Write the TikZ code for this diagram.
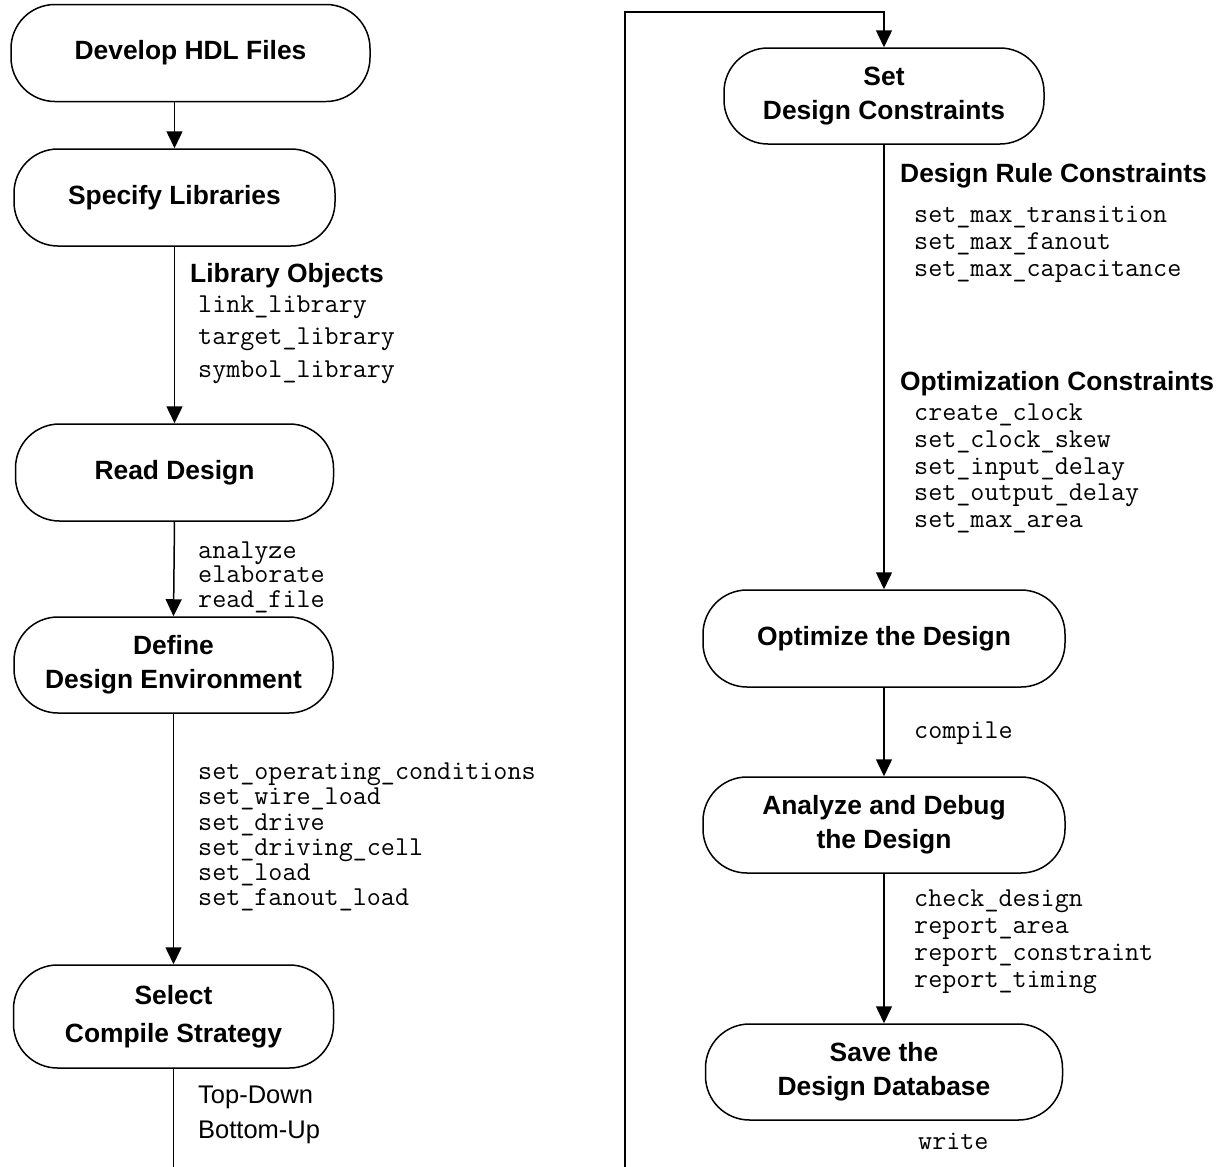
\documentclass[tikz,border=0pt]{standalone}
\usepackage{fontspec}
\setmainfont{Liberation Sans}
\setsansfont{Liberation Sans}
\usetikzlibrary{arrows.meta}
\begin{document}
\begin{tikzpicture}[x=1pt,y=1pt,
  stage/.style={draw, line width=1.5pt, rounded corners=44pt, align=center, inner sep=0pt,
    font=\bfseries\fontsize{26.4}{34}\selectfont, minimum height=97pt},
  flow/.style={line width=1.5pt, -{Triangle[length=17pt,width=16pt]}},
  plain/.style={line width=1.5pt},
  head/.style={anchor=west, inner sep=0pt, font=\bfseries\fontsize{26.4}{30}\selectfont},
  cmd/.style={anchor=west, inner sep=0pt, align=left, font=\ttfamily\fontsize{27.3}{#1}\selectfont},
  cmd/.default=24.6,
  txt/.style={anchor=west, inner sep=0pt, align=left, font=\fontsize{25.5}{35}\selectfont}
]
\useasboundingbox (0,0) rectangle (1224,-1167);

% left column
\node[stage, minimum width=359pt] (dev) at (190.5,-53) {Develop HDL Files};
\node[stage, minimum width=321pt] (spec) at (174.5,-197.5) {Specify Libraries};
\node[stage, minimum width=318pt] (read) at (174.5,-472.5) {Read Design};
\node[stage, minimum width=319pt, minimum height=96pt] (env) at (173.5,-665) {Define\\Design Environment};
\node[stage, minimum width=320pt, minimum height=103pt, font=\bfseries\fontsize{26.4}{38}\selectfont] (sel) at (173.5,-1016.5) {Select\\Compile Strategy};
\coordinate (lend) at (173.5,-1167);

\draw[flow] (spec.north |- dev.south) -- (spec.north);
\draw[flow] (spec.south) -- (read.north);
\draw[flow] (read.south) -- (env.north);
\draw[flow] (env.south) -- (sel.north);
\draw[plain] (sel.south) -- (lend);

\node[head] (libh) at (190,-276) {Library Objects};
\node[cmd=32.5] (libc) at (198,-339.5) {link\_library\\target\_library\\symbol\_library};
\node[cmd] (readc) at (198,-577) {analyze\\elaborate\\read\_file};
\node[cmd=25.2] (envc) at (198,-837) {set\_operating\_conditions\\set\_wire\_load\\set\_drive\\set\_driving\_cell\\set\_load\\set\_fanout\_load};
\node[txt] (stratc) at (198,-1114.5) {Top-Down\\Bottom-Up};

% right column
\coordinate (rstart) at (625,-1167);
\coordinate (rtop) at (625,-12);
\node[stage, minimum width=320pt, minimum height=96pt] (set) at (884,-96) {Set\\Design Constraints};
\node[stage, minimum width=362pt] (opt) at (884,-638.5) {Optimize the Design};
\node[stage, minimum width=362pt, minimum height=96pt] (ana) at (884,-825) {Analyze and Debug\\the Design};
\node[stage, minimum width=357pt, minimum height=96pt] (save) at (884,-1072) {Save the\\Design Database};

\draw[flow] (rstart) -- (rtop) -| (set.north);
\draw[flow] (set.south) -- (opt.north);
\draw[flow] (opt.south) -- (ana.north);
\draw[flow] (ana.south) -- (save.north);

\node[head] (drch) at (900,-176) {Design Rule Constraints};
\node[cmd=27] (drcc) at (914,-244) {set\_max\_transition\\set\_max\_fanout\\set\_max\_capacitance};
\node[head] (opth) at (900,-384) {Optimization Constraints};
\node[cmd=26.75] (optc) at (914,-468.5) {create\_clock\\set\_clock\_skew\\set\_input\_delay\\set\_output\_delay\\set\_max\_area};
\node[cmd] (compc) at (914,-733) {compile};
\node[cmd=27] (anac) at (914,-941.5) {check\_design\\report\_area\\report\_constraint\\report\_timing};
\node[cmd] (writec) at (918,-1141) {write};
\end{tikzpicture}
\end{document}
